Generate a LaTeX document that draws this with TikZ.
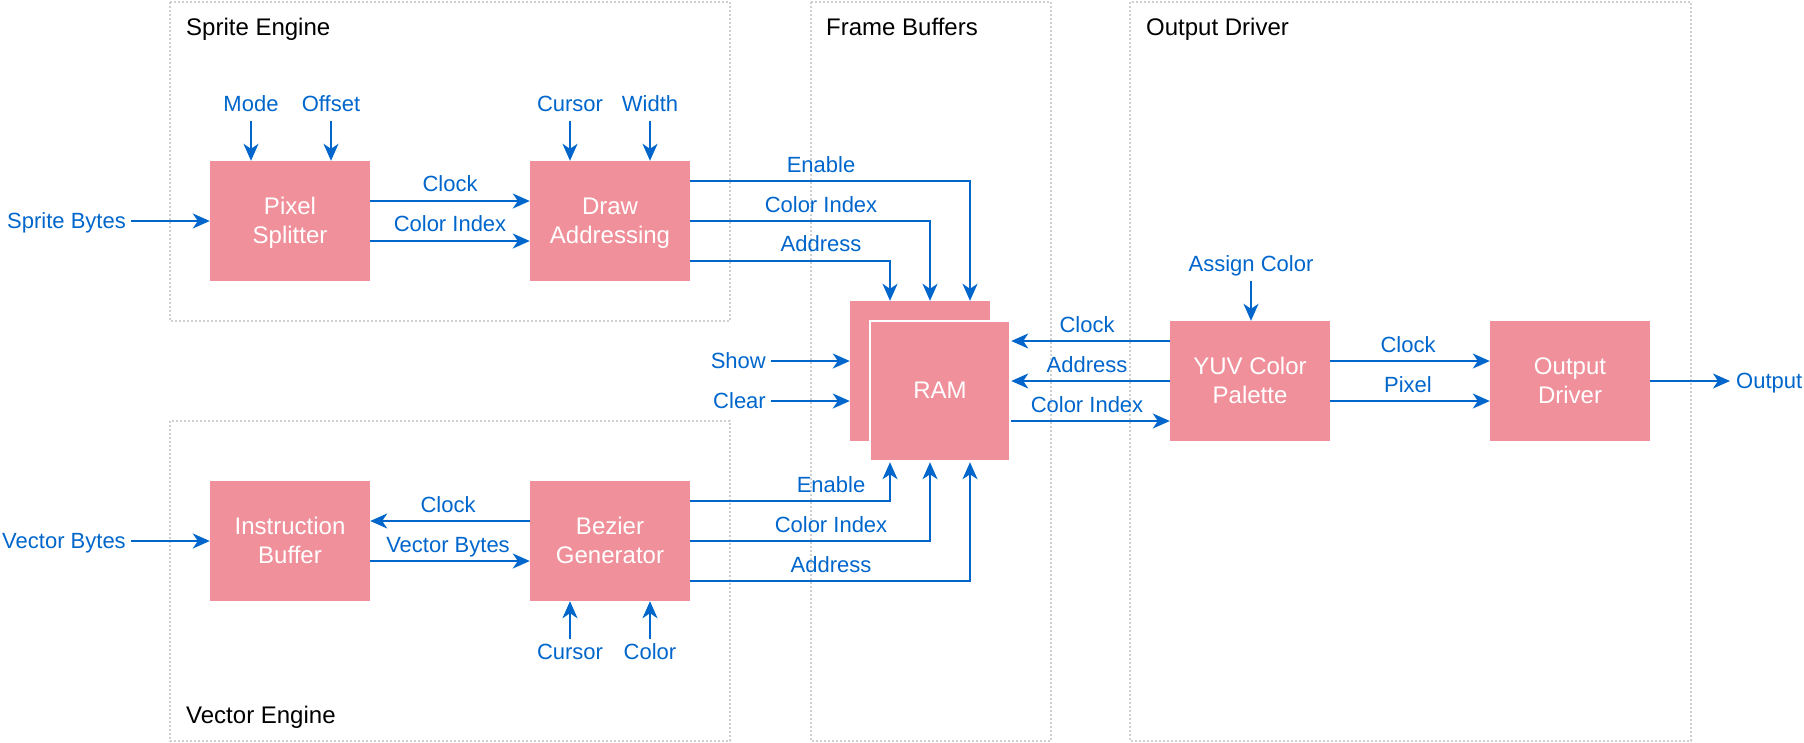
\documentclass[tikz,border=0pt]{standalone}
\usepackage{fontspec}
\setmainfont{Liberation Sans}
\usetikzlibrary{arrows.meta}
\definecolor{boxpink}{HTML}{F0909A}
\definecolor{lblue}{HTML}{0066CC}
\definecolor{contgray}{HTML}{CFCFCF}
\newcommand{\boxstrut}{\rule[-7pt]{0pt}{29.4pt}}
\tikzset{
  box/.style={fill=boxpink, draw=none, minimum width=160pt, minimum height=120pt, inner sep=0pt,
    text=white, align=center, font=\fontsize{24}{29.4}\selectfont},
  container/.style={draw=contgray, line width=1.5pt, dash pattern=on 2pt off 2pt},
  ctitle/.style={inner sep=0pt, text height=17.2pt, text depth=0pt, font=\fontsize{24}{29}\selectfont, text=black},
  lbl/.style={inner sep=0pt, text height=15.75pt, text depth=0pt, font=\fontsize{22}{26}\selectfont, text=lblue},
  arr/.style={draw=lblue, line width=2pt, -{Stealth[length=17pt,width=15pt,inset=5pt]}},
}
\begin{document}
\begin{tikzpicture}[x=1pt,y=-1pt]
\useasboundingbox (0,0) rectangle (1804,742);
% containers
\draw[container] (170,2) rectangle (730,321);
\draw[container] (170,421) rectangle (730,741);
\draw[container] (811,2) rectangle (1051,741);
\draw[container] (1130,2) rectangle (1691,741);
\node[ctitle, anchor=west] (tse) at (186,26.5) {Sprite Engine};
\node[ctitle, anchor=west] (tve) at (186,715) {Vector Engine};
\node[ctitle, anchor=west] (tfb) at (826,26.5) {Frame Buffers};
\node[ctitle, anchor=west] (tod) at (1146,26.5) {Output Driver};
% boxes
\node[box] (ps) at (290,221) {Pixel\boxstrut\\Splitter\boxstrut};
\node[box] (da) at (610,221) {Draw\boxstrut\\Addressing\boxstrut};
\node[box] (ib) at (290,541) {Instruction\boxstrut\\Buffer\boxstrut};
\node[box] (bg) at (610,541) {Bezier\boxstrut\\Generator\boxstrut};
\node[box, minimum width=140pt, minimum height=140pt] (ramb) at (920,371) {};
\node[box, minimum width=140pt, minimum height=140pt, draw=white, line width=2.5pt] (ram) at (940,391) {RAM\boxstrut};
\node[box] (yuv) at (1250,381) {YUV Color\boxstrut\\Palette\boxstrut};
\node[box] (od) at (1570,381) {Output\boxstrut\\Driver\boxstrut};
% sprite engine inputs
\node[lbl] (sb) at (66.5,221) {Sprite Bytes};
\draw[arr] ([xshift=5pt]sb.east) -- (ps.west);
\node[lbl] (mode) at (251,104) {Mode};
\node[lbl] (offs) at (331,104) {Offset};
\node[lbl] (curs) at (570,104) {Cursor};
\node[lbl] (wid) at (650,104) {Width};
\draw[arr] ([yshift=-9pt]mode.south) -- (mode.south |- ps.north);
\draw[arr] ([yshift=-9pt]offs.south) -- (offs.south |- ps.north);
\draw[arr] ([yshift=-9pt]curs.south) -- (curs.south |- da.north);
\draw[arr] ([yshift=-9pt]wid.south) -- (wid.south |- da.north);
\draw[arr] ([yshift=20pt]ps.east) -- ([yshift=20pt]ps.east -| da.west);
\draw[arr] ([yshift=-20pt]ps.east) -- ([yshift=-20pt]ps.east -| da.west);
\node[lbl] (l1) at (450,184) {Clock};
\node[lbl] (l2) at (450,224) {Color Index};
% draw addressing -> RAM
\draw[arr] ([yshift=40pt]da.east) -| ([xshift=50pt]ramb.north);
\draw[arr] (da.east) -| ([xshift=10pt]ramb.north);
\draw[arr] ([yshift=-40pt]da.east) -| ([xshift=-30pt]ramb.north);
\node[lbl] (l3) at (821,165) {Enable};
\node[lbl] (l4) at (821,204.5) {Color Index};
\node[lbl] (l5) at (821,244) {Address};
% show / clear
\node[lbl, anchor=east] (show) at (766,361) {Show};
\node[lbl, anchor=east] (clr) at (766,401) {Clear};
\draw[arr] ([xshift=5pt]show.east) -- ([yshift=10pt]ramb.west);
\draw[arr] ([xshift=5pt]clr.east) -- ([yshift=-30pt]ramb.west);
% vector engine
\node[lbl] (vb) at (64,541) {Vector Bytes};
\draw[arr] ([xshift=5pt]vb.east) -- (ib.west);
\draw[arr] ([yshift=20pt]bg.west) -- ([yshift=20pt]bg.west -| ib.east);
\draw[arr] ([yshift=-20pt]ib.east) -- ([yshift=-20pt]ib.east -| bg.west);
\node[lbl] (l6) at (448,504.5) {Clock};
\node[lbl] (l7) at (448,544.5) {Vector Bytes};
\node[lbl] (bcur) at (570,652) {Cursor};
\node[lbl] (bcol) at (650,652) {Color};
\draw[arr] ([yshift=5pt]bcur.north) -- (bcur.north |- bg.south);
\draw[arr] ([yshift=5pt]bcol.north) -- (bcol.north |- bg.south);
% bezier -> RAM
\draw[arr] ([yshift=40pt]bg.east) -| ([xshift=-50pt]ram.south);
\draw[arr] (bg.east) -| ([xshift=-10pt]ram.south);
\draw[arr] ([yshift=-40pt]bg.east) -| ([xshift=30pt]ram.south);
\node[lbl] (l8) at (831,484.5) {Enable};
\node[lbl] (l9) at (831,524.5) {Color Index};
\node[lbl] (l10) at (831,564.5) {Address};
% RAM <-> YUV
\draw[arr] ([yshift=40pt]yuv.west) -- ([yshift=40pt]yuv.west -| ram.east);
\draw[arr] (yuv.west) -- (yuv.west -| ram.east);
\draw[arr] ([yshift=-40pt]yuv.west -| ram.east) -- ([yshift=-40pt]yuv.west);
\node[lbl] (l11) at (1087,324.5) {Clock};
\node[lbl] (l12) at (1087,364.5) {Address};
\node[lbl] (l13) at (1087,404.5) {Color Index};
\node[lbl] (asg) at (1251,264) {Assign Color};
\draw[arr] ([yshift=-9pt]asg.south) -- (asg.south |- yuv.north);
% YUV -> output driver
\draw[arr] ([yshift=20pt]yuv.east) -- ([yshift=20pt]yuv.east -| od.west);
\draw[arr] ([yshift=-20pt]yuv.east) -- ([yshift=-20pt]yuv.east -| od.west);
\node[lbl] (l14) at (1408,344.5) {Clock};
\node[lbl] (l15) at (1408,384.5) {Pixel};
\node[lbl, anchor=west] (outp) at (1736,381) {Output};
\draw[arr] (od.east) -- ([xshift=-6pt]outp.west);
\end{tikzpicture}
\end{document}
